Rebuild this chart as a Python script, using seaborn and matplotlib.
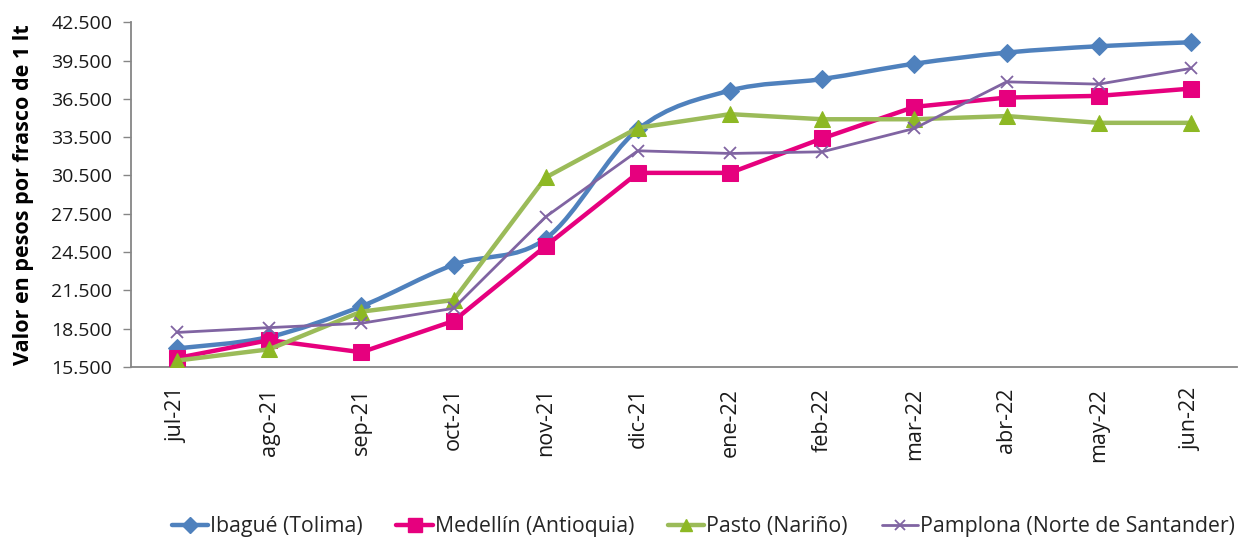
import numpy as np
import pandas as pd
import matplotlib
matplotlib.use("Agg")
import matplotlib.pyplot as plt
import seaborn as sns
from matplotlib.path import Path
from matplotlib.patches import PathPatch
from matplotlib.lines import Line2D

months = ["jul-21", "ago-21", "sep-21", "oct-21", "nov-21", "dic-21",
          "ene-22", "feb-22", "mar-22", "abr-22", "may-22", "jun-22"]
ibague = [16950, 17850, 20250, 23500, 25550, 34100, 37150, 38050, 39250, 40120, 40620, 40930]
medellin = [16200, 17600, 16650, 19100, 24970, 30700, 30700, 33400, 35870, 36600, 36730, 37300]
pasto = [16000, 16880, 19830, 20740, 30340, 34230, 35300, 34900, 34900, 35150, 34620, 34620]
pamplona = [18200, 18580, 18920, 20090, 27260, 32430, 32220, 32350, 34180, 37830, 37650, 38880]
series_names = ["Ibagué (Tolima)", "Medellín (Antioquia)", "Pasto (Nariño)",
                "Pamplona (Norte de Santander)"]
yticks = [15500, 18500, 21500, 24500, 27500, 30500, 33500, 36500, 39500, 42500]

colors = ["#4F81BD", "#E6007E", "#9BBB59", "#8064A2"]
mcolors = ["#4F81BD", "#E6007E", "#8DB824", "#8064A2"]
markers = ["D", "s", "^", "x"]
msizes = [9.5, 12, 11, 8]
lws = [3.2, 3.2, 3.2, 2.0]

sns.set_theme(style="white")
plt.rcParams['font.family'] = ['Open Sans', 'DejaVu Sans']

fig = plt.figure(figsize=(12.47, 5.42), dpi=100)
ax = fig.add_axes([0.105, 0.323, 0.887, 0.636])

x = np.arange(len(months))
all_vals = [ibague, medellin, pasto, pamplona]
handles = []
for i, (name, vals) in enumerate(zip(series_names, all_vals)):
    df = pd.DataFrame({"x": x, "y": vals})
    if i == 0:
        # smoothed line (Excel-style) rendered as Bezier path through the data points
        pts = np.column_stack([x, vals]).astype(float)
        verts = [tuple(pts[0])]
        codes = [Path.MOVETO]
        t = 1.0 / 6.0
        for k in range(len(pts) - 1):
            p0 = pts[k - 1] if k > 0 else pts[k]
            p1 = pts[k]
            p2 = pts[k + 1]
            p3 = pts[k + 2] if k + 2 < len(pts) else pts[k + 1]
            c1 = p1 + (p2 - p0) * t
            c2 = p2 - (p3 - p1) * t
            verts += [tuple(c1), tuple(c2), tuple(p2)]
            codes += [Path.CURVE4, Path.CURVE4, Path.CURVE4]
        patch = PathPatch(Path(verts, codes), facecolor="none", edgecolor=colors[i],
                          lw=lws[i], zorder=2 + i, capstyle="round", joinstyle="round")
        ax.add_patch(patch)
        sns.lineplot(data=df, x="x", y="y", ax=ax, color=colors[i], lw=0,
                     marker=markers[i], markersize=msizes[i], markeredgecolor=mcolors[i],
                     markerfacecolor=mcolors[i], zorder=2 + i)
    else:
        kw = dict(markerfacecolor=mcolors[i], markeredgecolor=mcolors[i])
        if markers[i] == "x":
            kw["markeredgewidth"] = 1.3
        sns.lineplot(data=df, x="x", y="y", ax=ax, color=colors[i], lw=lws[i],
                     marker=markers[i], markersize=msizes[i], zorder=2 + i, **kw)
    h = Line2D([], [], color=colors[i], lw=lws[i], marker=markers[i],
               markersize=msizes[i] * 0.85, markerfacecolor=mcolors[i],
               markeredgecolor=mcolors[i], markeredgewidth=1.3 if markers[i] == "x" else 1)
    handles.append(h)

ax.set_xlim(-0.5, len(months) - 0.5)
ax.set_ylim(yticks[0], yticks[-1])
ax.set_yticks(yticks)
ax.set_yticklabels([f"{v:,}".replace(",", ".") for v in yticks])
ax.set_xticks(x)
ax.set_xticklabels(months, rotation=90)
ax.tick_params(axis="y", which="major", direction="out", length=5.5, width=1,
               color="#868686", labelsize=14, pad=8, left=True)
ax.tick_params(axis="x", length=0, labelsize=15.5, pad=15)
for lbl in ax.get_xticklabels() + ax.get_yticklabels():
    lbl.set_color("#1a1a1a")

for s in ["top", "right"]:
    ax.spines[s].set_visible(False)
for s in ["left", "bottom"]:
    ax.spines[s].set_color("#868686")
    ax.spines[s].set_linewidth(1.3)

ax.set_xlabel("")
ax.set_ylabel("Valor en pesos por frasco de 1 lt", fontsize=15.5, fontweight="bold",
              color="black")
ax.yaxis.set_label_coords(-0.088, 0.5)
if ax.get_legend():
    ax.get_legend().remove()

fig.legend(handles=handles, labels=series_names, loc="center",
           bbox_to_anchor=(0.564, 0.028), ncol=4, frameon=False, fontsize=15.3,
           handlelength=1.7, handletextpad=0.1, columnspacing=1.6)

fig.savefig("out.png", dpi=100)
